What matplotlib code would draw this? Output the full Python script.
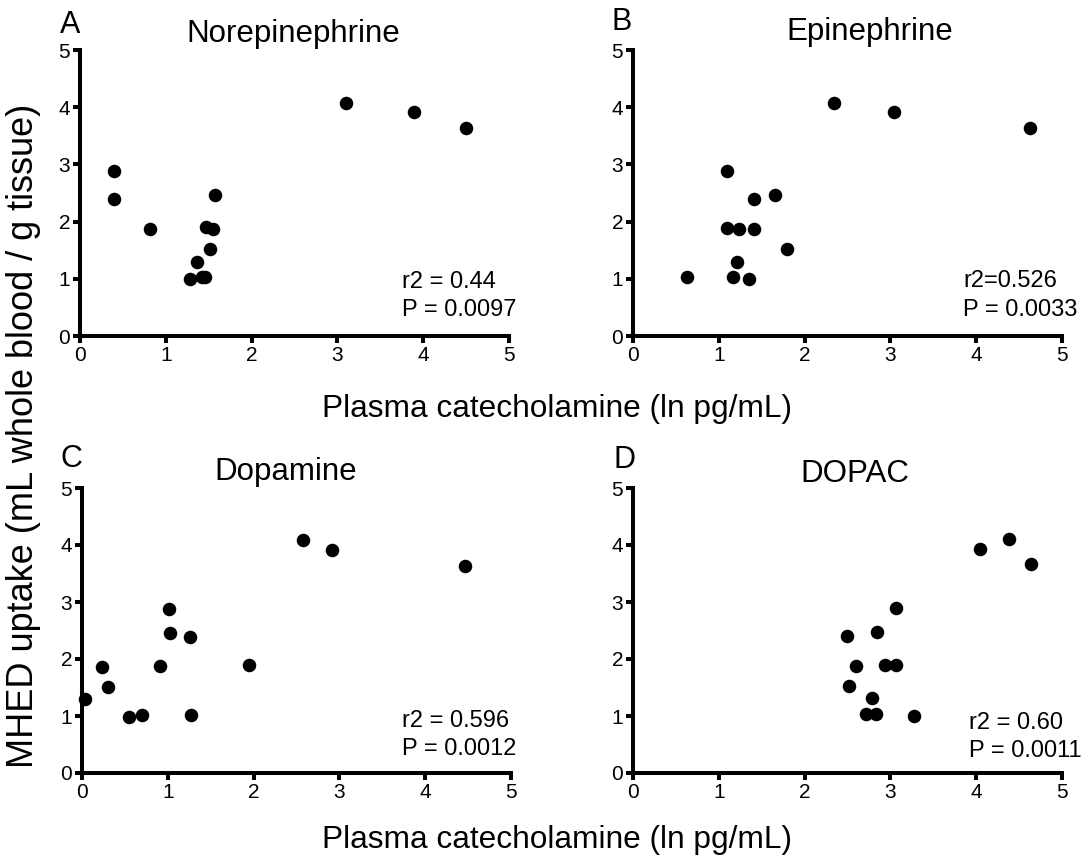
import matplotlib
matplotlib.use("Agg")
import matplotlib.pyplot as plt

plt.rcParams['font.family'] = ['Liberation Sans', 'DejaVu Sans']

# MHED uptake vs plasma catecholamines (ln pg/mL)
ne_x = [0.40, 0.40, 0.82, 1.28, 1.36, 1.42, 1.46, 1.47, 1.55, 1.51, 1.57, 3.10, 3.89, 4.50]
ne_y = [2.89, 2.39, 1.87, 0.99, 1.30, 1.03, 1.03, 1.90, 1.87, 1.52, 2.46, 4.08, 3.91, 3.64]

epi_x = [0.63, 1.10, 1.10, 1.24, 1.16, 1.21, 1.35, 1.41, 1.41, 1.65, 1.80, 2.34, 3.04, 4.63]
epi_y = [1.03, 2.89, 1.88, 1.87, 1.03, 1.30, 0.99, 2.40, 1.87, 2.46, 1.52, 4.08, 3.91, 3.64]

da_x = [0.03, 0.23, 0.30, 0.55, 0.70, 0.91, 1.01, 1.03, 1.26, 1.27, 1.95, 2.58, 2.91, 4.46]
da_y = [1.29, 1.86, 1.51, 0.98, 1.02, 1.87, 2.88, 2.45, 2.39, 1.01, 1.89, 4.08, 3.91, 3.64]

dopac_x = [2.49, 2.84, 3.06, 2.60, 2.94, 3.07, 2.52, 2.78, 2.71, 2.83, 3.27, 4.04, 4.38, 4.64]
dopac_y = [2.41, 2.48, 2.90, 1.88, 1.89, 1.90, 1.53, 1.31, 1.04, 1.04, 1.00, 3.93, 4.10, 3.66]

titles = ["Norepinephrine", "Epinephrine", "Dopamine", "DOPAC"]
letters = ["A", "B", "C", "D"]
r2_text = ["r2 = 0.44", "r2=0.526", "r2 = 0.596", "r2 = 0.60"]
p_text = ["P = 0.0097", "P = 0.0033", "P = 0.0012", "P = 0.0011"]
ticks = [0, 1, 2, 3, 4, 5]

W, H = 1081, 856
fig = plt.figure(figsize=(W / 100, H / 100), dpi=100)


def fx(x):
    return x / W


def fy(y):
    return 1 - y / H


# axes boxes in pixels: left, right, top, bottom
boxes = [(80, 509, 50, 336), (633, 1062, 50, 336),
         (82, 511, 488, 773), (633, 1062, 488, 773)]
title_pos = [(293, 42), (870, 40), (286, 480), (855, 482)]
letter_pos = [(70, 33), (622, 30), (71, 467), (625, 468)]
stat_pos = [(402, 288, 316), (963, 287, 316), (402, 727, 755), (969, 729, 757)]
data = [(ne_x, ne_y), (epi_x, epi_y), (da_x, da_y), (dopac_x, dopac_y)]

for i, (l, r, t, b) in enumerate(boxes):
    ax = fig.add_axes([fx(l), fy(b), (r - l) / W, (b - t) / H])
    xs, ys = data[i]
    ax.scatter(xs, ys, s=95, color='black', clip_on=False, zorder=3, linewidths=0)
    ax.set_xlim(0, 5)
    ax.set_ylim(0, 5)
    ax.set_xticks(ticks)
    ax.set_yticks(ticks)
    for side in ['top', 'right']:
        ax.spines[side].set_visible(False)
    for side in ['left', 'bottom']:
        ax.spines[side].set_linewidth(2.9)
    ax.tick_params(direction='out', length=5, width=2.9, labelsize=15, pad=2)
    ax.patch.set_alpha(0)

    tx, ty = title_pos[i]
    fig.text(fx(tx), fy(ty), titles[i], fontsize=22.5, ha='center', va='baseline')
    lx, ly = letter_pos[i]
    fig.text(fx(lx), fy(ly), letters[i], fontsize=22, ha='center', va='baseline')
    sx, sy1, sy2 = stat_pos[i]
    fig.text(fx(sx), fy(sy1), r2_text[i], fontsize=17, ha='left', va='baseline')
    fig.text(fx(sx), fy(sy2), p_text[i], fontsize=17, ha='left', va='baseline')

fig.text(fx(557), fy(417), "Plasma catecholamine (ln pg/mL)", fontsize=22.8,
         ha='center', va='baseline')
fig.text(fx(557), fy(848), "Plasma catecholamine (ln pg/mL)", fontsize=22.8,
         ha='center', va='baseline')
fig.text(fx(24), fy(436), "MHED uptake (mL whole blood / g tissue)", fontsize=26,
         rotation=90, ha='center', va='center')

fig.savefig("out.png", dpi=100)
